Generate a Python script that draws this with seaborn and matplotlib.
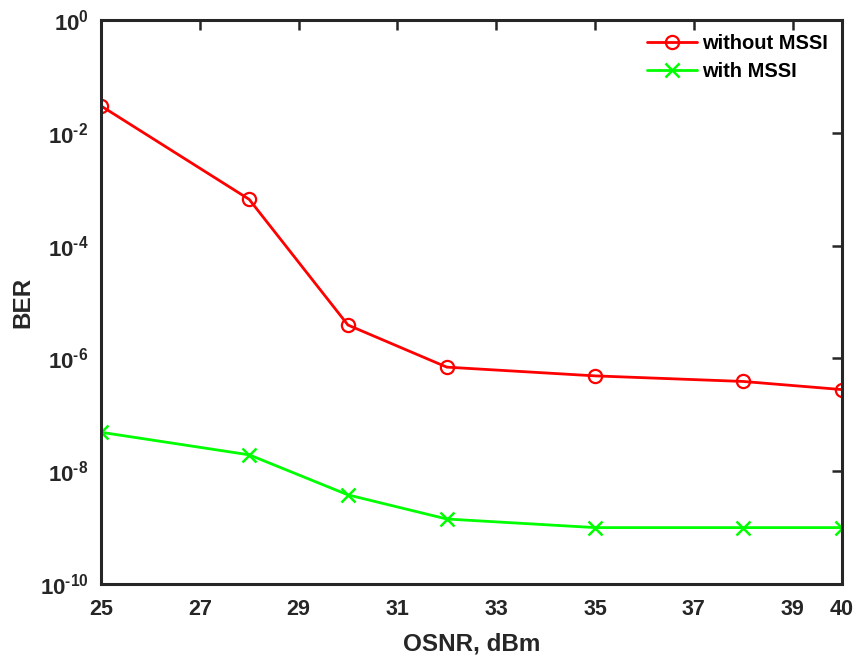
import numpy as np
import pandas as pd
import matplotlib
matplotlib.use("Agg")
import matplotlib.pyplot as plt
import seaborn as sns
from matplotlib.ticker import FixedLocator, NullLocator

osnr = [25, 28, 30, 32, 35, 38, 40]
ber_without = [3.0e-2, 6.6e-4, 3.9e-6, 7.0e-7, 4.9e-7, 3.9e-7, 2.8e-7]
ber_with = [4.9e-8, 1.95e-8, 3.8e-9, 1.42e-9, 1.0e-9, 1.0e-9, 1.0e-9]
series = ["without MSSI", "with MSSI"]
x_ticks = [25, 27, 29, 31, 33, 35, 37, 39, 40]
y_ticks = [1e0, 1e-2, 1e-4, 1e-6, 1e-8, 1e-10]
y_exponents = ["0", "-2", "-4", "-6", "-8", "-10"]

sns.set_theme(style="white")
plt.rcParams["font.family"] = ["Liberation Sans", "DejaVu Sans"]
plt.rcParams["mathtext.default"] = "regular"
plt.rcParams["mathtext.fontset"] = "custom"
plt.rcParams["mathtext.bf"] = "Liberation Sans:bold"
plt.rcParams["mathtext.rm"] = "Liberation Sans:bold"
dark = "#262626"

fig = plt.figure(figsize=(8.58, 6.66), dpi=100)
ax = fig.add_axes([101 / 858, 1 - 584 / 666, (842 - 101) / 858, (584 - 20) / 666])
ax.set_yscale("log")

sns.lineplot(x=osnr, y=ber_without, color="#ff0000", marker="o", linewidth=2.0,
             markersize=9.5, markeredgewidth=1.6, markerfacecolor="none",
             markeredgecolor="#ff0000", label=series[0], ax=ax)
sns.lineplot(x=osnr, y=ber_with, color="#00ff00", marker="x", linewidth=2.0,
             markersize=9.5, markeredgewidth=1.8, markeredgecolor="#00ff00",
             label=series[1], ax=ax)

ax.set_xlim(25, 40)
ax.set_ylim(1e-10, 1e0)
ax.xaxis.set_major_locator(FixedLocator(x_ticks))
ax.yaxis.set_major_locator(FixedLocator(y_ticks))
ax.yaxis.set_minor_locator(NullLocator())
ax.set_xticklabels([str(t) for t in x_ticks], fontsize=15.5, fontweight="bold", color=dark)
ax.set_yticklabels([r"$\mathbf{10}^{\mathbf{%s}}$" % s.replace("-", r"\text{-}") for s in y_exponents],
                   fontsize=16, color=dark)

ax.tick_params(axis="both", which="major", direction="in", length=7, width=1.8,
               color=dark, top=True, right=True)
ax.tick_params(axis="x", pad=11)
ax.tick_params(axis="y", pad=9)
for sp in ax.spines.values():
    sp.set_visible(True)
    sp.set_color(dark)
    sp.set_linewidth(2.2)

ax.set_xlabel("OSNR, dBm", fontsize=17.5, fontweight="bold", color=dark, labelpad=9)
ax.set_ylabel("BER", fontsize=17.5, fontweight="bold", color=dark, labelpad=4)

leg = ax.legend(loc="upper right", frameon=False, fontsize=14.5,
                handlelength=2.5, handletextpad=0.25, labelspacing=0.45,
                borderaxespad=0.3)
for t in leg.get_texts():
    t.set_fontweight("bold")
    t.set_color("black")

fig.savefig("out.png", dpi=100)
